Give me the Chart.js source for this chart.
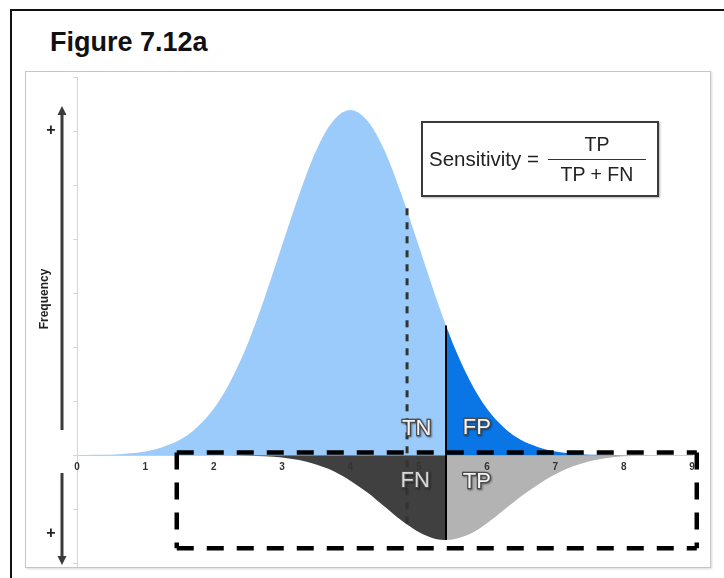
<!DOCTYPE html>
<html>
<head>
<meta charset="utf-8">
<script src="https://cdn.jsdelivr.net/npm/chart.js@4.4.1/dist/chart.umd.min.js"></script>
<style>
  body { margin: 0; width: 724px; height: 578px; overflow: hidden; background: #fff; position: relative; font-family: "Liberation Sans", Arial, sans-serif; }
  #frame { position: absolute; left: 10px; top: 9px; width: 800px; height: 700px; border: 2px solid #111; }
  #title { position: absolute; left: 50px; top: 27px; font-weight: bold; font-size: 27px; color: #111; }
  #panel { position: absolute; left: 25px; top: 71px; width: 684px; height: 495px; border: 1px solid #c6c6c6; box-shadow: 1px 1px 2px rgba(0,0,0,0.15); }
  #chart { position: absolute; left: 0; top: 0; }
  #formula { position: absolute; left: 421px; top: 121px; width: 234px; height: 72px; border: 2px solid #3a3a3a;
             box-shadow: 1px 1px 2px rgba(0,0,0,0.3); background: #fff; display: flex; align-items: center; font-size: 19.5px; color: #222; }
  #formula .lhs { margin-left: 6px; white-space: nowrap; font-size: 20.5px; }
  #formula .frac { display: inline-flex; flex-direction: column; align-items: center; margin-left: 9px; width: 98px; }
  #formula .num { width: 100%; text-align: center; border-bottom: 1.5px solid #333; padding-bottom: 3px; }
  #formula .den { padding-top: 3px; white-space: nowrap; }
</style>
</head>
<body>
<div id="frame"></div>
<div id="title">Figure 7.12a</div>
<div id="panel"></div>
<canvas id="chart" width="724" height="578"></canvas>
<div id="formula"><span class="lhs">Sensitivity =</span><span class="frac"><span class="num">TP</span><span class="den">TP + FN</span></span></div>

<script>
// ---- data ----
const xs = [0, 0.25, 0.5, 0.75, 1, 1.25, 1.5, 1.75, 2, 2.25, 2.5, 2.75, 3, 3.25, 3.5, 3.75, 4, 4.25, 4.5, 4.75,
            5, 5.25, 5.4, 5.5, 5.75, 6, 6.25, 6.5, 6.75, 7, 7.25, 7.5, 7.75, 8, 8.25, 8.5];
// healthy population (drawn above the axis)
const healthy = [0, 0.01, 0.01, 0.03, 0.07, 0.15, 0.28, 0.51, 0.86, 1.38, 2.07, 2.93, 3.88, 4.82, 5.64, 6.19, 6.39, 6.19, 5.64, 4.82,
                 3.88, 2.93, 2.40, 2.07, 1.38, 0.86, 0.51, 0.28, 0.15, 0.07, 0.03, 0.01, 0.01, 0, 0, 0];
// diseased population (drawn below the axis)
const diseased = [0, 0, 0, 0, 0, 0, 0, 0, 0, 0, -0.01, -0.02, -0.04, -0.09, -0.17, -0.29, -0.47, -0.69, -0.95, -1.21,
                  -1.42, -1.55, -1.57, -1.56, -1.46, -1.26, -1.01, -0.76, -0.54, -0.35, -0.21, -0.11, -0.05, -0.02, -0.01, 0];
const xTicks = [0, 1, 2, 3, 4, 5, 6, 7, 8, 9];
const cutoff = 5.4;            // test threshold (solid line)
const altCutoff = [4.83, 4.57, -1.26];   // dashed line: x, top, bottom
const boxX = [1.46, 9.07];     // dashed rectangle around the diseased group
const boxY = [0.05, -1.72];
const cellLabels = ['TN', 'FP', 'FN', 'TP'];
const cellX = [4.97, 5.85, 4.95, 5.85];
const cellY = [0.48, 0.5, -0.47, -0.5];

const pts = (vals, keep) => xs.map((x, i) => ({ x, y: vals[i] })).filter(p => keep(p.x));
const left = x => x <= cutoff;
const right = x => x >= cutoff;

function area(data, color) {
  return {
    data, fill: 'origin', backgroundColor: color, borderWidth: 0,
    pointRadius: 0, cubicInterpolationMode: 'monotone'
  };
}

// ---- overlay: lines, cell labels, dashed box, frequency arrows ----
const overlay = {
  id: 'overlay',
  afterDraw(chart) {
    const { ctx, scales: { x, y } } = chart;
    ctx.save();

    // dashed alternative cutoff
    ctx.strokeStyle = '#333';
    ctx.lineWidth = 3;
    ctx.setLineDash([7, 7]);
    ctx.beginPath();
    ctx.moveTo(x.getPixelForValue(altCutoff[0]), y.getPixelForValue(altCutoff[1]));
    ctx.lineTo(x.getPixelForValue(altCutoff[0]), y.getPixelForValue(altCutoff[2]));
    ctx.stroke();

    // solid cutoff between the two curves
    const ci = xs.indexOf(cutoff);
    ctx.setLineDash([]);
    ctx.strokeStyle = '#000';
    ctx.lineWidth = 2;
    ctx.beginPath();
    ctx.moveTo(x.getPixelForValue(cutoff), y.getPixelForValue(healthy[ci]));
    ctx.lineTo(x.getPixelForValue(cutoff), y.getPixelForValue(diseased[ci]));
    ctx.stroke();

    // TN / FP / FN / TP
    ctx.font = '22px "Liberation Sans", Arial, sans-serif';
    ctx.textAlign = 'center';
    ctx.textBaseline = 'middle';
    cellLabels.forEach((t, i) => {
      const px = x.getPixelForValue(cellX[i]);
      const py = y.getPixelForValue(cellY[i]);
      ctx.shadowColor = 'rgba(0,0,0,0.45)';
      ctx.shadowBlur = 2;
      ctx.shadowOffsetX = 1;
      ctx.shadowOffsetY = 1;
      ctx.lineWidth = 2.5;
      ctx.strokeStyle = '#4a4a4a';
      ctx.strokeText(t, px, py);
      ctx.shadowColor = 'transparent';
      ctx.fillStyle = t === 'FN' ? '#d8d8d8' : '#f4f4f4';
      ctx.fillText(t, px, py);
    });

    // dashed rectangle
    const x1 = x.getPixelForValue(boxX[0]), x2 = x.getPixelForValue(boxX[1]);
    const y1 = y.getPixelForValue(boxY[0]), y2 = y.getPixelForValue(boxY[1]);
    ctx.strokeStyle = '#000';
    ctx.lineWidth = 4.5;
    ctx.setLineDash([17, 13]);
    [[x1, y1, x2, y1], [x2, y1, x2, y2], [x1, y1, x1, y2], [x1, y2, x2, y2]].forEach(s => {
      ctx.beginPath();
      ctx.moveTo(s[0], s[1]);
      ctx.lineTo(s[2], s[3]);
      ctx.stroke();
    });
    ctx.setLineDash([]);

    // frequency arrows on the left
    const ax = 62;
    ctx.strokeStyle = '#3a3a3a';
    ctx.fillStyle = '#3a3a3a';
    ctx.lineWidth = 3;
    const arrow = (yFrom, yTo) => {
      const dir = yTo < yFrom ? -1 : 1;
      ctx.beginPath();
      ctx.moveTo(ax, yFrom);
      ctx.lineTo(ax, yTo - dir * 6);
      ctx.stroke();
      ctx.beginPath();
      ctx.moveTo(ax, yTo);
      ctx.lineTo(ax - 4.5, yTo - dir * 9);
      ctx.lineTo(ax + 4.5, yTo - dir * 9);
      ctx.closePath();
      ctx.fill();
    };
    arrow(430, 106);
    arrow(473, 565);

    ctx.fillStyle = '#222';
    ctx.font = 'bold 16px "Liberation Sans", Arial, sans-serif';
    ctx.fillText('+', 51, 131);
    ctx.fillText('+', 51, 534);

    ctx.translate(45, 299);
    ctx.rotate(-Math.PI / 2);
    ctx.font = 'bold 12px "Liberation Sans", Arial, sans-serif';
    ctx.fillText('Frequency', 0, 0);
    ctx.restore();
  }
};

new Chart(document.getElementById('chart'), {
  type: 'line',
  data: {
    datasets: [
      area(pts(healthy, left), '#9bcbfa'),
      area(pts(healthy, right), '#0a76e6'),
      area(pts(diseased, left), '#404040'),
      area(pts(diseased, right), '#b3b3b3')
    ]
  },
  options: {
    responsive: false,
    animation: false,
    layout: { padding: { left: 77, right: 32, top: 77, bottom: 12 } },
    plugins: { legend: { display: false }, tooltip: { enabled: false } },
    scales: {
      x: {
        type: 'linear', min: 0, max: 9,
        position: { y: 0 },
        afterBuildTicks: s => { s.ticks = xTicks.map(v => ({ value: v })); },
        grid: { display: false, drawTicks: false },
        border: { display: true, color: '#cfcfcf', width: 1 },
        ticks: { z: 1, padding: 6, color: '#333', font: { size: 10, weight: 'bold', family: '"Liberation Sans", Arial' } }
      },
      y: {
        type: 'linear', min: -2.05, max: 7,
        afterFit: s => { s.width = 0; },
        grid: { drawOnChartArea: false, drawTicks: true, tickLength: 4, color: '#d6d6d6' },
        border: { display: true, color: '#d6d6d6', width: 1 },
        ticks: { display: false, stepSize: 1, includeBounds: false }
      }
    }
  },
  plugins: [overlay]
});
</script>
</body>
</html>
